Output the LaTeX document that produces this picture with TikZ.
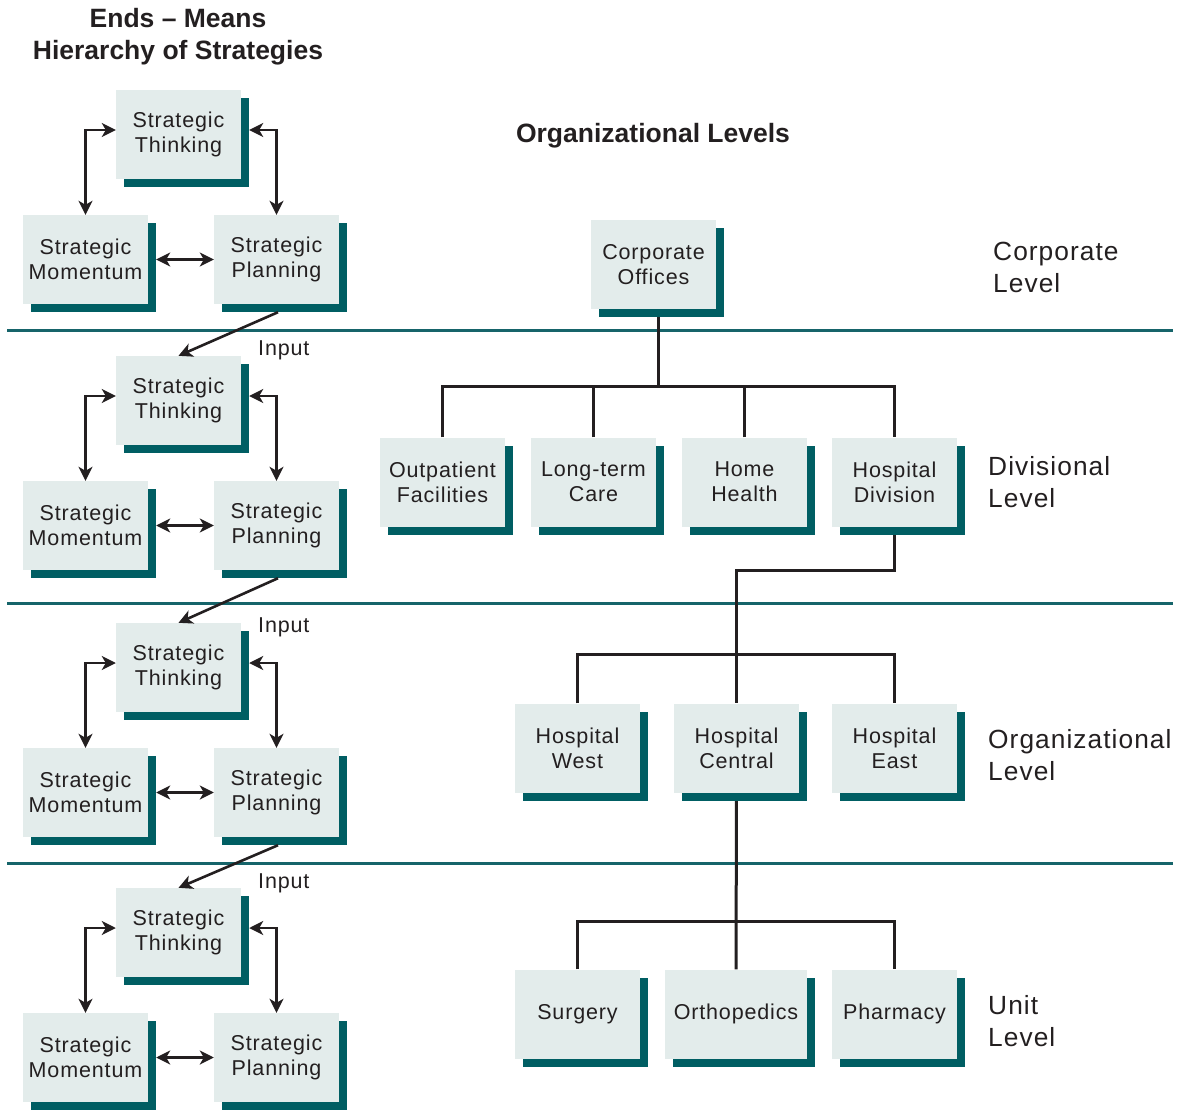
\documentclass[tikz,border=0pt]{standalone}
\usepackage{fontspec}
\setmainfont{Liberation Sans}
\newfontfamily\boxfont[LetterSpace=4]{Liberation Sans}
\usetikzlibrary{arrows.meta,shadows,backgrounds}
\definecolor{boxfill}{RGB}{227,236,235}
\definecolor{shteal}{RGB}{0,94,99}
\definecolor{divteal}{RGB}{22,100,106}
\definecolor{ink}{RGB}{35,31,32}
\tikzset{
  sbox/.style={fill=boxfill, minimum width=125pt, minimum height=89pt, inner sep=0pt,
    align=center, text=ink, font=\boxfont\fontsize{21.5}{25}\selectfont,
    general shadow={fill=shteal, shadow xshift=8pt, shadow yshift=-8pt}},
  widebox/.style={minimum width=142pt},
  conn/.style={line width=3pt, draw=ink},
  tip/.style={},
  dblarr/.style={line width=2.6pt, draw=ink, {Stealth[length=14pt,width=14pt,inset=4pt]}-{Stealth[length=14pt,width=14pt,inset=4pt]}},
  onearr/.style={line width=2.6pt, draw=ink, -{Stealth[length=14pt,width=14pt,inset=4pt]}},
  divider/.style={line width=3pt, draw=divteal},
  lvl/.style={anchor=west, align=left, text=ink, inner sep=0pt, font=\boxfont\fontsize{26.3}{32}\selectfont},
  ttl/.style={align=center, text=ink, inner sep=0pt, font=\bfseries\fontsize{26.5}{32}\selectfont},
  inlbl/.style={anchor=west, text=ink, inner sep=0pt, font=\boxfont\fontsize{21.5}{25}\selectfont}
}
\begin{document}
\begin{tikzpicture}[x=1pt,y=-1pt]
\useasboundingbox (0,0) rectangle (1182,1109);

% titles
\node[ttl] (title1) at (178,37) {Ends -- Means\\Hierarchy of Strategies};
\node[ttl] (title2) at (653,136) {Organizational Levels};

% left column
\foreach \i/\dy in {1/0,2/266,3/533,4/798}{
  \node[sbox] (t\i) at (178.5,134.5+\dy) {Strategic\\Thinking};
  \node[sbox] (m\i) at (85.5,259.5+\dy) {Strategic\\Momentum};
  \node[sbox] (p\i) at (276.5,259.5+\dy) {Strategic\\Planning};
  \draw[dblarr] ([yshift=4.5pt]t\i.west) -| (m\i.north);
  \draw[dblarr] ([xshift=8pt,yshift=4.5pt]t\i.east) -| (p\i.north);
  \draw[dblarr] ([xshift=8pt]m\i.east) -- (p\i.west);
}
\foreach \a/\b in {1/2,2/3,3/4}{
  \draw[onearr] ([xshift=1.5pt,yshift=-8pt]p\a.south) -- (t\b.north);
}
\node[inlbl] (in2) at (258,350) {Input};
\node[inlbl] (in3) at (258,627) {Input};
\node[inlbl] (in4) at (258,883) {Input};

% org chart
\node[sbox] (co) at (653.5,264.5) {Corporate\\Offices};
\node[sbox] (d1) at (442.5,482) {Outpatient\\Facilities};
\node[sbox] (d2) at (593.5,482) {Long-term\\Care};
\node[sbox] (d3) at (744.5,482) {Home\\Health};
\node[sbox] (d4) at (894.5,482) {Hospital\\Division};
\node[sbox] (h1) at (577.5,748) {Hospital\\West};
\node[sbox] (h2) at (736.5,748) {Hospital\\Central};
\node[sbox] (h3) at (894.5,748) {Hospital\\East};
\node[sbox] (u1) at (577.5,1014) {Surgery};
\node[sbox,widebox] (u2) at (736,1014) {Orthopedics};
\node[sbox] (u3) at (894.5,1014) {Pharmacy};

\coordinate (bus1) at (658,386);

\begin{scope}[on background layer]
  \draw[divider] (7,330) -- (1173,330);
  \draw[divider] (7,603) -- (1173,603);
  \draw[divider] (7,863) -- (1173,863);
  \draw[conn] ([xshift=4.5pt]co.south) -- (bus1);
  \draw[conn] (d1.north) -- ++(0,-51) -| (d4.north);
  \draw[conn] (d2.north) -- (d2.north |- bus1);
  \draw[conn] (d3.north) -- (d3.north |- bus1);
  \draw[conn] (d4.south) -- ++(0,44) -| (h2.north);
  \draw[conn] (h1.north) -- ++(0,-49) -| (h3.north);
  \draw[conn] (h2.south) -- (u2.north);
  \draw[conn] (u1.north) -- ++(0,-48) -| (u3.north);
\end{scope}

% level labels
\node[lvl] (l1) at (993,267) {Corporate\\Level};
\node[lvl] (l2) at (988,482) {Divisional\\Level};
\node[lvl] (l3) at (988,755) {Organizational\\Level};
\node[lvl] (l4) at (988,1021) {Unit\\Level};
\end{tikzpicture}
\end{document}
